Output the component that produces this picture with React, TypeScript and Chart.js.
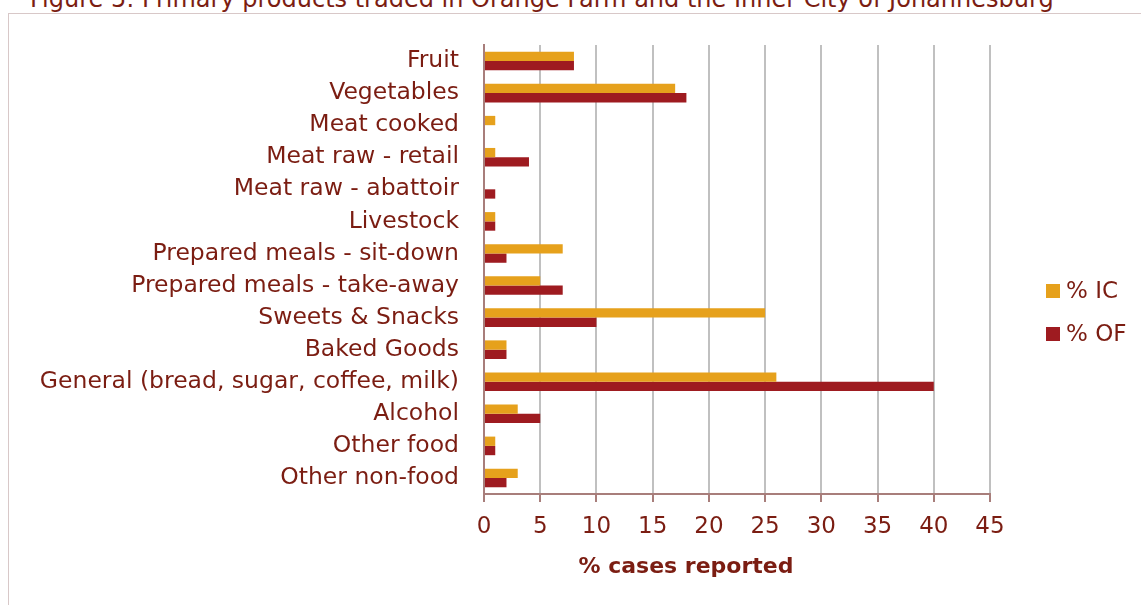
import React, { useEffect, useRef } from "react";
import { Chart, registerables } from "chart.js";

Chart.register(...registerables);

const categories = [
  "Fruit",
  "Vegetables",
  "Meat cooked",
  "Meat raw - retail",
  "Meat raw - abattoir",
  "Livestock",
  "Prepared meals - sit-down",
  "Prepared meals - take-away",
  "Sweets & Snacks",
  "Baked Goods",
  "General (bread, sugar, coffee, milk)",
  "Alcohol",
  "Other food",
  "Other non-food",
];

const icValues = [8, 17, 1, 1, 0, 1, 7, 5, 25, 2, 26, 3, 1, 3];
const ofValues = [8, 18, 0, 4, 1, 1, 2, 7, 10, 2, 40, 5, 1, 2];

const seriesNames = ["% IC", "% OF"];
const xTicks = [0, 5, 10, 15, 20, 25, 30, 35, 40, 45];
const xTitle = "% cases reported";

const TEXT = "#7B1D12";
const AXIS = "#A87E7B";
const FONT = "'DejaVu Sans', Tahoma, sans-serif";

const legendPlugin = {
  id: "customLegend",
  afterDraw(chart: any) {
    const { ctx, chartArea } = chart;
    const x = chartArea.right + 56;
    const y0 = chartArea.top + 246;
    ctx.save();
    chart.data.datasets.forEach((ds: any, i: number) => {
      const y = y0 + i * 43;
      ctx.fillStyle = ds.backgroundColor;
      ctx.fillRect(x, y - 7, 14, 14);
      ctx.fillStyle = TEXT;
      ctx.font = `23px ${FONT}`;
      ctx.textBaseline = "middle";
      ctx.textAlign = "left";
      ctx.fillText(ds.label, x + 20, y + 1);
    });
    // x-axis title
    ctx.font = `bold 22px ${FONT}`;
    ctx.textAlign = "center";
    ctx.textBaseline = "middle";
    ctx.fillStyle = TEXT;
    ctx.fillText(xTitle, (chartArea.left + chartArea.right) / 2 - 51, chartArea.bottom + 73);
    ctx.restore();
  },
};

export default function App() {
  const ref = useRef<HTMLCanvasElement>(null);
  useEffect(() => {
    if (!ref.current) return;
    const chart = new Chart(ref.current, {
      type: "bar",
      data: {
        labels: categories,
        datasets: [
          {
            label: seriesNames[0],
            data: icValues,
            backgroundColor: "#E6A11C",
            categoryPercentage: 0.58,
            barPercentage: 1,
          },
          {
            label: seriesNames[1],
            data: ofValues,
            backgroundColor: "#9E1B20",
            categoryPercentage: 0.58,
            barPercentage: 1,
          },
        ],
      },
      options: {
        indexAxis: "y",
        animation: false,
        responsive: false,
        maintainAspectRatio: false,
        layout: { padding: { left: 0, right: 151, top: 45, bottom: 0 } },
        plugins: {
          legend: { display: false },
          tooltip: { enabled: false },
        },
        scales: {
          x: {
            min: 0,
            max: 45,
            afterBuildTicks: (scale: any) => {
              scale.ticks = xTicks.map((v) => ({ value: v }));
            },
            afterFit: (scale: any) => {
              scale.height = 111;
            },
            grid: {
              color: "#C0C0C0",
              lineWidth: 2,
              tickColor: AXIS,
              tickLength: 8,
              drawTicks: true,
            },
            border: { display: true, color: AXIS, width: 2 },
            ticks: {
              color: TEXT,
              font: { family: FONT, size: 23 },
              padding: 11,
            },
            title: { display: false },
          },
          y: {
            afterFit: (scale: any) => {
              scale.width = 484;
            },
            grid: { display: false, drawTicks: false },
            border: { display: true, color: AXIS, width: 2 },
            ticks: {
              color: TEXT,
              font: { family: FONT, size: 23.5 },
              padding: 25,
              autoSkip: false,
            },
          },
        },
      },
      plugins: [legendPlugin],
    });
    return () => chart.destroy();
  }, []);

  return (
    <div
      style={{
        position: "fixed",
        left: 0,
        top: 0,
        width: 1141,
        height: 605,
        overflow: "hidden",
        background: "#fff",
      }}
    >
      <div
        style={{
          position: "absolute",
          left: 30,
          top: -15,
          fontFamily: FONT,
          fontSize: 24,
          lineHeight: "28px",
          color: TEXT,
          whiteSpace: "nowrap",
        }}
      >
        Figure 5: Primary products traded in Orange Farm and the Inner City of Johannesburg
      </div>
      <div
        style={{
          position: "absolute",
          left: 8,
          top: 13,
          width: 1300,
          height: 800,
          border: "1px solid #D8C8C8",
        }}
      />
      <canvas
        ref={ref}
        width={1141}
        height={605}
        style={{ position: "absolute", left: 0, top: 0, width: 1141, height: 605 }}
      />
    </div>
  );
}
